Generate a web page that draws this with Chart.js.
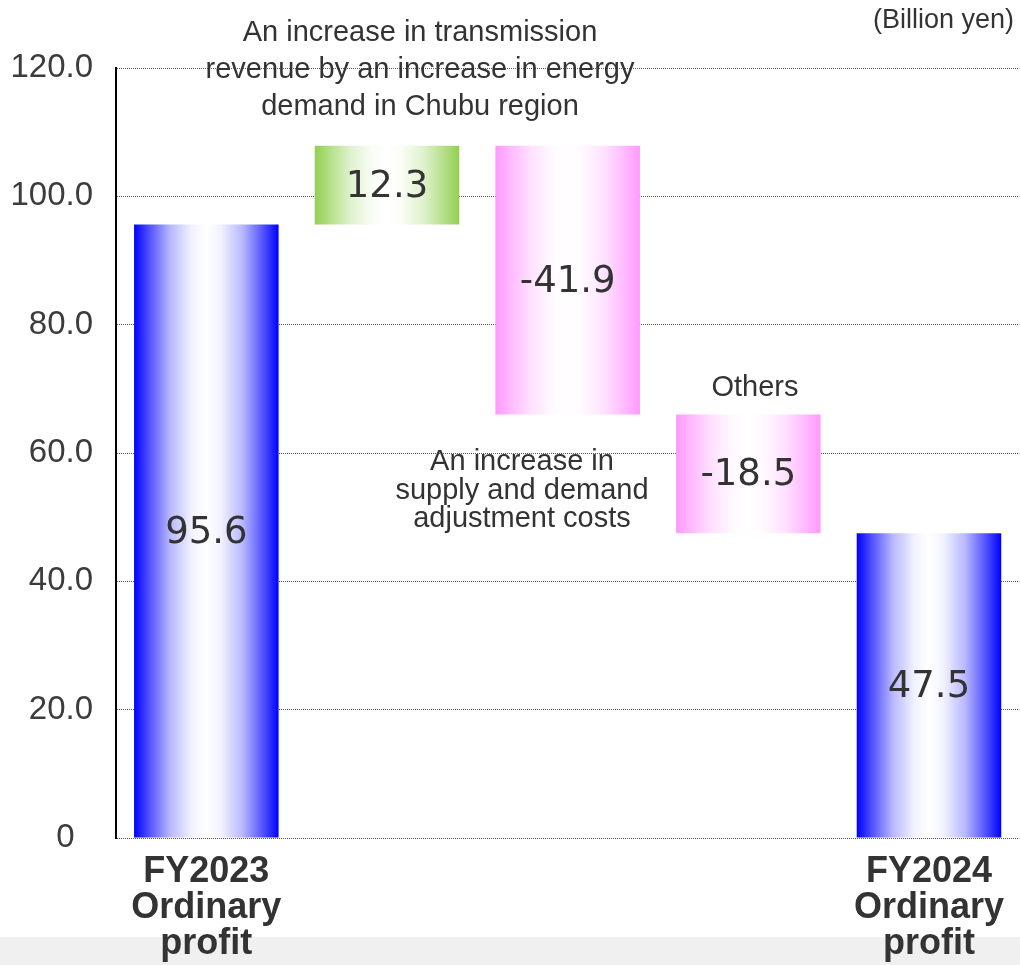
<!DOCTYPE html>
<html>
<head>
<meta charset="utf-8">
<script src="https://cdn.jsdelivr.net/npm/chart.js@4/dist/chart.umd.min.js"></script>
<style>
  body { margin: 0; background: #fff; }
  #wrap { position: relative; width: 1020px; height: 965px; overflow: hidden; }
  #band { position: absolute; left: 0; right: 0; bottom: 0; height: 28px; background: #f0f0f0; }
  #chart { position: absolute; left: 0; top: 0; }
</style>
</head>
<body>
<div id="wrap">
  <div id="band"></div>
  <canvas id="chart" width="1020" height="965"></canvas>
</div>
<script>
// ordinary profit bridge, billion yen
const categories = [
  ["FY2023", "Ordinary", "profit"],
  "",
  "",
  "",
  ["FY2024", "Ordinary", "profit"]
]
const values = [95.6, 12.3, -41.9, -18.5, 47.5]
const kinds = ["total", "change", "change", "change", "total"]
const yTicks = [0, 20, 40, 60, 80, 100, 120]

// floating ranges: totals start from zero, changes start where the last bar ended
const ranges = []
let level = 0
values.forEach((v, i) => {
  if (kinds[i] === "total") {
    ranges.push([0, v])
    level = v
  } else {
    ranges.push([level, level + v])
    level = level + v
  }
})

const edgeColor = (i) => {
  if (kinds[i] === "total") return "#0000ff"
  return values[i] >= 0 ? "#92d050" : "#ff99ff"
}

const mix = (hex, t) => {
  // t = 0 -> colour, t = 1 -> white
  const n = parseInt(hex.slice(1), 16)
  const r = (n >> 16) & 255, g = (n >> 8) & 255, b = n & 255
  const f = (c) => Math.round(c + (255 - c) * t)
  return `rgb(${f(r)}, ${f(g)}, ${f(b)})`
}

function barGradient(context) {
  const chart = context.chart
  const i = context.dataIndex
  const base = edgeColor(i)
  if (!chart.chartArea) return base
  const xs = chart.scales.x
  const cx = xs.getPixelForValue(i)
  const w = xs.width / categories.length * 0.8
  const g = chart.ctx.createLinearGradient(cx - w / 2, 0, cx + w / 2, 0)
  g.addColorStop(0, mix(base, 0))
  g.addColorStop(0.1, mix(base, 0.3))
  g.addColorStop(0.25, mix(base, 0.72))
  g.addColorStop(0.4, mix(base, 0.95))
  g.addColorStop(0.5, mix(base, 1))
  g.addColorStop(0.6, mix(base, 0.95))
  g.addColorStop(0.75, mix(base, 0.72))
  g.addColorStop(0.9, mix(base, 0.3))
  g.addColorStop(1, mix(base, 0))
  return g
}

const valueLabels = {
  id: "valueLabels",
  afterDatasetsDraw(chart) {
    const ctx = chart.ctx
    const meta = chart.getDatasetMeta(0)
    ctx.save()
    ctx.textAlign = "center"
    ctx.textBaseline = "middle"
    ctx.fillStyle = "#333333"
    ctx.font = "37px 'DejaVu Sans'"
    meta.data.forEach((bar, i) => {
      const y = (bar.y + bar.base) / 2
      ctx.fillText(values[i].toFixed(1), bar.x, y + 2)
    })
    ctx.restore()
  }
}

const notes = {
  id: "notes",
  afterDraw(chart) {
    const ctx = chart.ctx
    ctx.save()
    ctx.fillStyle = "#333333"
    ctx.textBaseline = "middle"

    ctx.font = "27px 'Liberation Sans', Arial"
    ctx.textAlign = "right"
    ctx.fillText("(Billion yen)", 1014, 21)

    ctx.font = "29px 'Liberation Sans', Arial"
    ctx.textAlign = "center"
    const top = ["An increase in transmission", "revenue by an increase in energy", "demand in Chubu region"]
    top.forEach((t, k) => ctx.fillText(t, 420, 33 + k * 37))

    ctx.fillText("Others", 755, 388)

    const mid = ["An increase in", "supply and demand", "adjustment costs"]
    mid.forEach((t, k) => ctx.fillText(t, 522, 462 + k * 28.5))
    ctx.restore()
  }
}

new Chart(document.getElementById("chart").getContext("2d"), {
  type: "bar",
  data: {
    labels: categories,
    datasets: [{
      data: ranges,
      backgroundColor: barGradient,
      borderWidth: 0,
      borderSkipped: false,
      categoryPercentage: 0.8,
      barPercentage: 1
    }]
  },
  options: {
    responsive: false,
    animation: false,
    layout: { padding: { top: 68, right: 0, left: 0, bottom: 0 } },
    plugins: {
      legend: { display: false },
      tooltip: { enabled: false }
    },
    events: [],
    scales: {
      x: {
        grid: { display: false, drawTicks: false },
        border: { display: false },
        ticks: {
          color: "#333333",
          padding: 16,
          maxRotation: 0,
          autoSkip: false,
          font: { family: "'Liberation Sans', Arial", size: 36, weight: "bold", lineHeight: 1.0 }
        },
        afterFit(scale) { scale.height = 127 }
      },
      y: {
        min: 0,
        max: 120,
        afterBuildTicks(scale) { scale.ticks = yTicks.map(v => ({ value: v })) },
        grid: { color: "#5a5a5a", lineWidth: 1, drawTicks: false },
        border: { display: true, color: "#000000", width: 2, dash: [1, 1] },
        ticks: {
          color: "#3c3c3c",
          padding: 23,
          font: { family: "'Liberation Sans', Arial", size: 33 },
          callback: (v) => v === 0 ? "0  " : v.toFixed(1)
        },
        afterFit(scale) { scale.width = 116 }
      }
    }
  },
  plugins: [valueLabels, notes]
})
</script>
</body>
</html>
